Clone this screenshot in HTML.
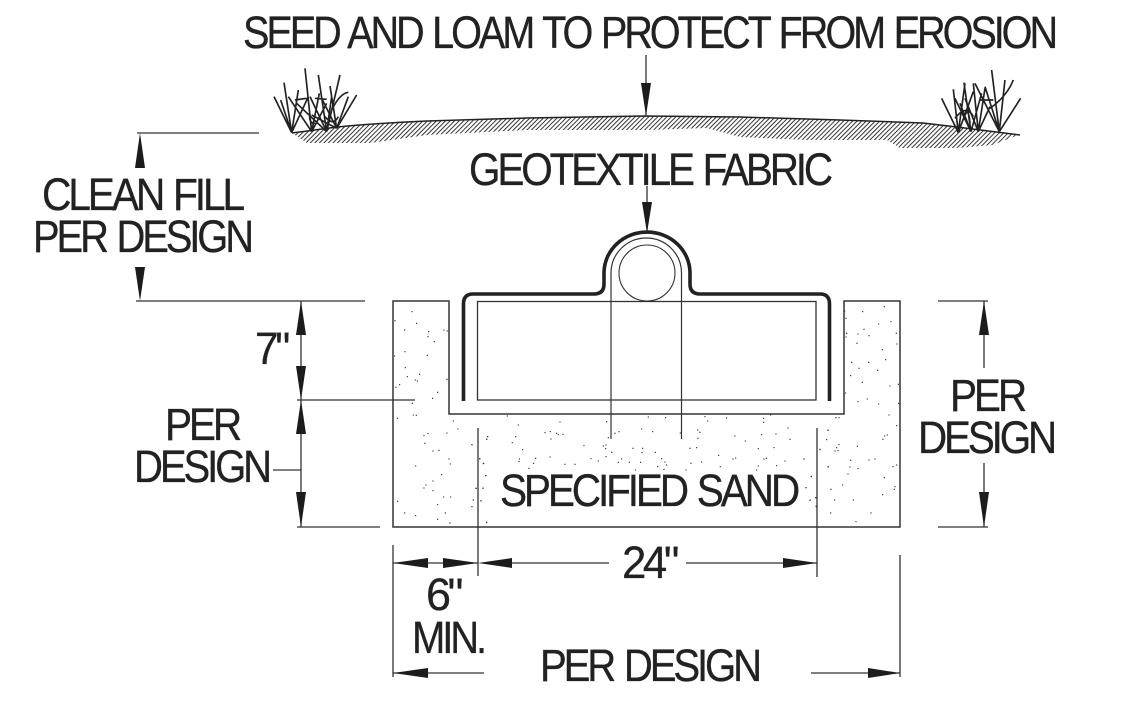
<!DOCTYPE html>
<html>
<head>
<meta charset="utf-8">
<style>
html,body{margin:0;padding:0;background:#fff;width:1122px;height:715px;overflow:hidden}
svg{display:block}
text{font-family:"Liberation Sans",sans-serif;font-size:45px;fill:#222;stroke:#222;stroke-width:.3px;letter-spacing:-3.5px;word-spacing:3px}
</style>
</head>
<body>
<svg width="1122" height="715" viewBox="0 0 1122 715" xmlns="http://www.w3.org/2000/svg">
<defs>
<pattern id="h" width="3.200" height="3.200" patternUnits="userSpaceOnUse" patternTransform="rotate(45)">
<rect width="1" height="3.200" x="0" fill="#333"/>
</pattern>
</defs>

<!-- ground -->
<path d="M292 133 L337 127 Q380 123 427 121 L527 118 L646 116 L740 117 L840 120 L923 123 L957 127 L1020 135 L1013 137 L993 145 L957 148 L900 148 L887 140 L807 140 L740 137 L707 128 L646 130 L527 130 L427 135 L370 143 L307 143 Z" fill="url(#h)"/>
<path d="M292 133 L337 127 Q380 123 427 121 L527 118 L646 116 L740 117 L840 120 L923 123 L957 127 L1020 135" fill="none" stroke="#222" stroke-width="1.500"/>

<!-- grass left -->
<g transform="translate(260 60) scale(.3333)" fill="none" stroke="#222" stroke-width="5">
<path d="M95 218L42 110M95 218L72 68M95 218L115 90M95 218L145 110M95 218L62 120M155 215L135 25M155 215L85 110M155 215L178 100M155 215L148 150M155 215L200 130M200 215L175 45M200 215L150 110M200 215L110 130M200 215L240 45M200 215L215 110M230 205L290 105M230 205L210 78M230 205L265 110M230 205L185 115M230 205L155 165M105 120L140 115M165 115L200 118M215 150Q240 100 265 97M195 170Q220 200 235 170M150 160Q145 190 165 190"/>
</g>
<!-- grass right -->
<g transform="translate(640 60) scale(.3333)" fill="none" stroke="#222" stroke-width="5">
<path d="M955 218L905 115M955 218L940 88M955 218L975 70M955 218L1000 95M993 215L972 68M993 215L945 115M993 215L1025 100M993 215L960 130M1015 215L1000 70M1015 215L1035 85M1015 215L1050 140M1015 215L975 115M1078 215L1055 30M1078 215L1005 70M1078 215L1142 115M1078 215L1035 80M1078 215L1095 60M1050 145Q1100 110 1120 60M1020 120L1060 120M945 175Q980 130 1000 170M970 180Q985 130 990 190"/>
</g>

<!-- sand outline -->
<path d="M449 301H393V527H900V301H844V414H449Z" fill="none" stroke="#333" stroke-width="1.500"/>

<!-- inner rect & pipe -->
<rect x="477.500" y="301.500" width="338.500" height="98.500" fill="none" stroke="#333" stroke-width="1.300"/>
<path d="M611 439V273A35.250 35 0 0 1 681.500 273V439" fill="none" stroke="#333" stroke-width="1.200"/>
<circle cx="647" cy="273" r="28" fill="#fff" stroke="#333" stroke-width="1.100"/>

<!-- fabric -->
<path d="M463.500 401V304Q463.500 294 473 294H594Q604 294 604 284V273A43 41 0 0 1 690 273V284Q690 294 700 294H820Q829.500 294 829.500 304V401" fill="none" stroke="#222" stroke-width="3.600"/>

<!-- thin dimension lines -->
<g fill="none" stroke="#333" stroke-width="1.300">
<path d="M646 55V116M647 186V232"/>
<path d="M137 133H259M136 301H365"/>
<path d="M301 301V527M297 400H415M297 527H380M273 470H301"/>
<path d="M938 301H988M938 527H988M984 301V368M984 463V527"/>
<path d="M393 545V677M478 428V576M817 428V577M900 555V677"/>
<path d="M393 563H478M512 563H609M686 563H817"/>
<path d="M393 673H484M811 673H900"/>
</g>

<!-- arrowheads -->
<g fill="#1c1c1c">
<path d="M646 116L641 83H651Z"/>
<path d="M647 233L642 202H652Z"/>
<path d="M140 133L135 168H145Z"/>
<path d="M140 301L135 267H145Z"/>
<path d="M301 301L296 335H306Z"/>
<path d="M301 400L296 366H306Z"/>
<path d="M301 400L296 434H306Z"/>
<path d="M301 527L296 492H306Z"/>
<path d="M984 301L979 335H989Z"/>
<path d="M984 527L979 492H989Z"/>
<path d="M393 563L428 558V568Z"/>
<path d="M478 563L443 558V568Z"/>
<path d="M478 563L512 558V568Z"/>
<path d="M817 563L783 558V568Z"/>
<path d="M393 673L428 668V678Z"/>
<path d="M900 673L868 668V678Z"/>
</g>

<!-- sand dots -->
<g fill="none" stroke="#333" stroke-linecap="round" stroke-width="4">
<path transform="translate(120 290) scale(.3333)" d="M876 65h0M825 92h0M890 100h0M854 120h0M926 125h0M972 120h0M982 123h0M924 140h0M943 155h0M855 185h0M922 196h0M824 198h0M856 233h0M862 260h0M899 253h0M886 270h0M892 273h0M981 268h0M828 292h0M839 284h0M953 307h0M938 325h0M877 340h0M880 375h0M889 376h0M832 385h0M1000 393h0M1014 417h0M981 429h0M924 431h0M912 437h0M915 460h0M939 483h0M957 481h0M1056 464h0M1103 440h0M1100 448h0M987 507h0M991 522h0M1079 506h0M1090 521h0M887 528h0M965 554h0M1098 557h0M939 573h0M918 585h0M912 594h0M939 602h0M1069 595h0M1089 594h0M971 621h0M992 621h0M1060 630h0M1083 633h0M833 634h0M953 644h0M1056 650h0M854 669h0M887 677h0M976 669h0M953 688h0M990 699h0M1100 697h0"/>
<path transform="translate(800 290) scale(.3333)" d="M253 50h0M134 63h0M188 65h0M138 85h0M273 95h0M236 102h0M192 118h0M140 130h0M174 132h0M289 130h0M207 137h0M138 141h0M171 160h0M291 162h0M247 179h0M257 209h0M155 217h0M206 217h0M177 235h0M233 241h0M152 257h0M187 277h0M270 288h0M295 283h0M137 309h0M202 327h0M174 335h0M236 342h0M296 340h0M267 375h0M108 383h0M117 383h0M290 407h0M84 421h0M262 435h0M254 438h0M249 448h0M80 449h0M117 464h0M172 469h0M110 473h0M60 479h0M105 483h0M114 482h0M152 511h0M207 510h0M225 507h0M12 507h0M84 531h0M150 531h0M174 536h0M290 525h0M279 530h0M144 552h0M34 559h0M253 563h0M128 585h0M18 593h0M93 598h0M285 590h0M283 598h0M248 614h0M104 630h0M160 630h0M30 631h0M48 649h0M92 669h0M213 669h0M168 695h0M47 623h0"/>
<path transform="translate(470 410) scale(.3333)" d="M112 18h0M145 45h0M270 36h0M241 65h0M225 68h0M260 70h0M265 74h0M279 73h0M243 87h0M137 80h0M127 98h0M53 80h0M50 88h0M6 104h0M158 119h0M197 145h0M148 147h0M147 155h0M191 160h0M240 141h0M177 175h0M285 163h0M315 163h0M342 107h0M410 35h0M435 70h0M447 65h0M415 83h0M408 105h0M400 108h0M407 116h0M425 127h0M408 140h0M363 146h0M385 153h0M445 157h0M455 147h0M478 157h0M512 157h0M489 115h0M518 115h0M516 128h0M556 127h0M535 21h0M587 23h0M515 57h0M548 65h0M631 69h0M660 115h0M680 113h0M683 60h0M690 67h0M684 85h0M705 20h0M713 33h0M770 24h0M881 25h0M881 37h0M902 15h0M954 54h0M918 72h0M875 74h0M795 78h0M826 93h0M960 88h0M912 113h0M865 116h0M746 136h0M789 147h0M797 144h0M882 147h0M889 145h0M945 153h0M1002 147h0M920 167h0M865 168h0M860 180h0M751 170h0M695 156h0M663 160h0M648 180h0M575 146h0M585 156h0M590 165h0M563 170h0M582 178h0M497 180h0M41 160h0M30 147h0M47 197h0M39 235h0M18 235h0M10 270h0M33 272h0M6 290h0M50 338h0M1024 200h0M1008 233h0M1021 270h0M1050 118h0M1075 60h0M1040 290h0M1075 170h0M1038 263h0"/>
</g>

<!-- labels -->
<text x="243" y="48" textLength="812" lengthAdjust="spacingAndGlyphs">SEED AND LOAM TO PROTECT FROM EROSION</text>
<text x="469" y="185" textLength="361" lengthAdjust="spacingAndGlyphs">GEOTEXTILE FABRIC</text>
<text x="42" y="210" textLength="200" lengthAdjust="spacingAndGlyphs">CLEAN FILL</text>
<text x="33" y="252" textLength="218" lengthAdjust="spacingAndGlyphs">PER DESIGN</text>
<text x="255" y="364" textLength="32" lengthAdjust="spacingAndGlyphs">7"</text>
<text x="165" y="440" textLength="74" lengthAdjust="spacingAndGlyphs">PER</text>
<text x="134" y="482" textLength="135" lengthAdjust="spacingAndGlyphs">DESIGN</text>
<text x="950" y="411" textLength="74" lengthAdjust="spacingAndGlyphs">PER</text>
<text x="918" y="453" textLength="136" lengthAdjust="spacingAndGlyphs">DESIGN</text>
<text x="500" y="506" textLength="297" lengthAdjust="spacingAndGlyphs">SPECIFIED SAND</text>
<text x="622" y="578" textLength="54" lengthAdjust="spacingAndGlyphs">24"</text>
<text x="426" y="610" textLength="34" lengthAdjust="spacingAndGlyphs">6"</text>
<text x="412" y="653" textLength="72" lengthAdjust="spacingAndGlyphs">MIN.</text>
<text x="540" y="681" textLength="219" lengthAdjust="spacingAndGlyphs">PER DESIGN</text>
</svg>
</body>
</html>
